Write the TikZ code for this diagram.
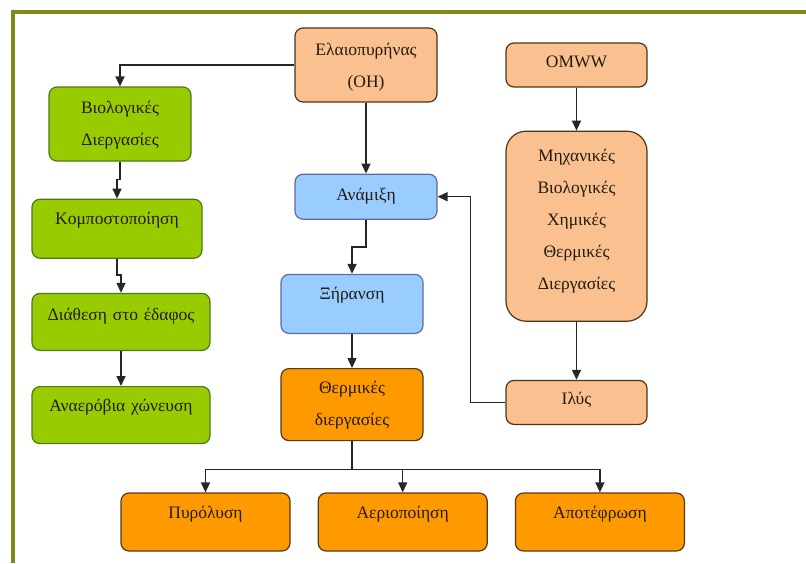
\documentclass[tikz,border=0pt]{standalone}
\usepackage{fontspec}
\setmainfont{Liberation Serif}
\usetikzlibrary{arrows.meta,positioning}

\definecolor{peach}{RGB}{250,192,144}
\definecolor{leaf}{RGB}{153,204,0}
\definecolor{sky}{RGB}{153,204,255}
\definecolor{amber}{RGB}{255,153,0}
\definecolor{olive}{RGB}{128,138,26}
\definecolor{txt}{RGB}{35,28,15}

\tikzset{
  box/.style={draw, line width=1.2pt, rounded corners=8pt, inner sep=0pt,
    align=center, text height=25pt, text=txt,
    font=\rmfamily\fontsize{17.5}{32}\selectfont},
  rawbox/.style={box, fill=peach, draw=black!60!brown},
  bioline/.style={box, fill=leaf, draw=black!55!green!60!brown},
  mixbox/.style={box, fill=sky, draw=black!60!blue!60},
  heatbox/.style={box, fill=amber, draw=black!55!brown},
  flow/.style={draw=black!85, line width=1.4pt, -{Triangle[length=10pt,width=9pt]}}
}

\begin{document}
\begin{tikzpicture}[x=1pt, y=-1pt]
  \useasboundingbox (0,0) rectangle (806,563);
  % frame
  \draw[olive, line width=3.5pt] (806,12) -- (13,12) -- (13,563);

  % raw material column
  \node[rawbox, text width=142pt, text depth=47pt, text height=27pt] (oh) at (366,65) {Ελαιοπυρήνας\\(OH)};
  \node[mixbox, text width=142pt, text depth=19pt, text height=26pt, below=71pt of oh] (mix) {Ανάμιξη};
  \node[mixbox, text width=142pt, text depth=34pt, below=54pt of mix, xshift=-14pt] (dry) {Ξήρανση};
  \node[heatbox, text width=142pt, text depth=47pt, below=34pt of dry] (therm) {Θερμικές\\διεργασίες};

  % omww column
  \node[rawbox, text width=141pt, text depth=20pt, text height=24pt] (omww) at (576.5,65) {OMWW};
  \node[rawbox, rounded corners=20pt, text width=141pt, text depth=160pt, text height=30pt, below=43pt of omww] (mech) {Μηχανικές\\Βιολογικές\\Χημικές\\Θερμικές\\Διεργασίες};
  \node[rawbox, text width=141pt, text depth=20pt, text height=24pt, below=58pt of mech] (ilys) {Ιλύς};

  % biological column
  \node[bioline, text width=142pt, text depth=48pt, text height=26pt] (bio) at (120,124) {Βιολογικές\\Διεργασίες};
  \node[bioline, text width=170pt, text depth=34pt, below=37pt of bio, xshift=-3pt] (comp) {Κομποστοποίηση};
  \node[bioline, text width=178pt, text depth=30pt, text height=27pt, below=34pt of comp, xshift=4pt] (soil) {Διάθεση στο έδαφος};
  \node[bioline, text width=178pt, text depth=32pt, below=35pt of soil] (anaer) {Αναερόβια χώνευση};

  % thermal routes
  \node[heatbox, text width=169pt, text depth=33pt] (pyro) at (205.5,522) {Πυρόλυση};
  \node[heatbox, text width=169pt, text depth=33pt, right=27pt of pyro] (gas) {Αεριοποίηση};
  \node[heatbox, text width=169pt, text depth=33pt, right=27pt of gas] (incin) {Αποτέφρωση};

  % connectors
  \draw[flow] (oh.west) -| (bio.north);
  \draw[flow] (bio.south) -- ++(0,18) -| (comp.north);
  \draw[flow] (comp.south) -- ++(0,16) -| (soil.north);
  \draw[flow] (soil) -- (anaer);
  \draw[flow] (oh) -- (mix);
  \draw[flow] (mix.south) -- ++(0,27) -| (dry.north);
  \draw[flow] (dry) -- (therm);
  \draw[flow] (therm.south) -- ++(0,28) -| (pyro.north);
  \draw[flow] (therm.south) -- ++(0,28) -| (gas.north);
  \draw[flow] (therm.south) -- ++(0,28) -| (incin.north);
  \draw[flow] (omww) -- (mech);
  \draw[flow] (mech) -- (ilys);
  \draw[flow] (ilys.west) -- ++(-35,0) |- (mix.east);
\end{tikzpicture}
\end{document}
